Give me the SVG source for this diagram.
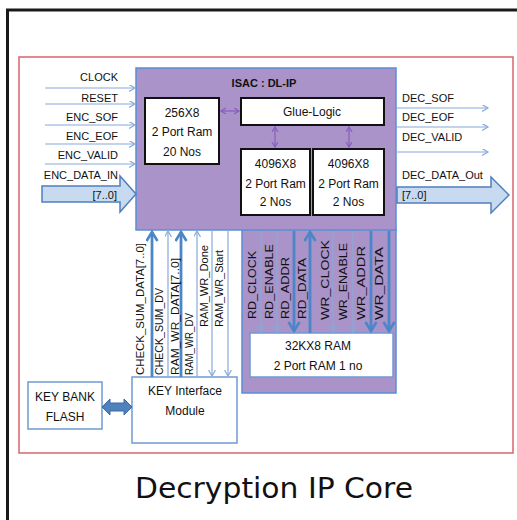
<svg xmlns="http://www.w3.org/2000/svg" width="517" height="520" viewBox="0 0 517 520">
<style>
text{font-family:"Liberation Sans",Arial,sans-serif;fill:#111}
.lbl{font-size:11px}
.box{font-size:12px;text-anchor:middle}
.rot{font-size:11.5px}
.thin{stroke:#85aadb;stroke-width:1.2;fill:none}
.thick{stroke:#4a86c8;stroke-width:2.8;fill:none}
.blk{fill:#fff;stroke:#111;stroke-width:2}
.bbox{fill:#fff;stroke:#6f9ad4;stroke-width:1.5}
.purp{stroke:#8a5cc0;stroke-width:1.2;fill:none}
</style>
<defs>
<marker id="ah" markerUnits="userSpaceOnUse" markerWidth="8" markerHeight="8" refX="6" refY="3.5" orient="auto"><path d="M0,0 L6,3.5 L0,7" fill="none" stroke="#85aadb" stroke-width="1.2"/></marker>
<marker id="ahT" markerUnits="userSpaceOnUse" markerWidth="14" markerHeight="14" refX="10" refY="6.5" orient="auto"><path d="M1,1 L10,6.5 L1,12" fill="none" stroke="#4a86c8" stroke-width="2.6"/></marker>
<marker id="ahP" markerUnits="userSpaceOnUse" markerWidth="8" markerHeight="8" refX="5" refY="3" orient="auto-start-reverse"><path d="M0,0 L5,3 L0,6" fill="none" stroke="#8a5cc0" stroke-width="1.2"/></marker>
</defs>
<rect width="517" height="520" fill="#fff"/>
<path d="M7.5,520 V10 H517" fill="none" stroke="#1a1a1a" stroke-width="3"/>
<rect x="19" y="57" width="494" height="396" fill="#fff" stroke="#d9646b" stroke-width="1.5"/>

<g id="isac">
<rect x="242" y="229" width="154" height="164" fill="#a993c8" stroke="#5b8ed6" stroke-width="1.5"/>
<rect x="136" y="68" width="260" height="162" fill="#a993c8" stroke="#5b8ed6" stroke-width="1.5"/>
<text x="264" y="87" font-size="11" font-weight="bold" text-anchor="middle">ISAC : DL-IP</text>
</g>
<g id="ram256">
<rect class="blk" x="145" y="98" width="74" height="66"/>
<text class="box" x="182" y="117">256X8</text>
<text class="box" x="182" y="136">2 Port Ram</text>
<text class="box" x="182" y="156">20 Nos</text>
</g>
<g id="glue">
<rect class="blk" x="241" y="98" width="143" height="27"/>
<text class="box" x="312" y="116">Glue-Logic</text>
</g>
<g id="ram4096a">
<rect class="blk" x="241" y="149" width="69" height="66"/>
<text class="box" x="275.5" y="168">4096X8</text>
<text class="box" x="275.5" y="188">2 Port Ram</text>
<text class="box" x="275.5" y="206">2 Nos</text>
</g>
<g id="ram4096b">
<rect class="blk" x="313" y="149" width="71" height="66"/>
<text class="box" x="348.5" y="168">4096X8</text>
<text class="box" x="348.5" y="188">2 Port Ram</text>
<text class="box" x="348.5" y="206">2 Nos</text>
</g>
<g id="ram32k">
<rect class="bbox" x="250" y="333" width="143" height="44"/>
<text class="box" x="318" y="350">32KX8  RAM</text>
<text class="box" x="318" y="370">2 Port RAM 1 no</text>
</g>
<g id="keyif">
<rect class="bbox" x="132" y="377" width="105" height="66"/>
<text class="box" x="185" y="395">KEY Interface</text>
<text class="box" x="185" y="415">Module</text>
</g>
<g id="keybank">
<rect class="bbox" x="28" y="382" width="74" height="47"/>
<text class="box" x="65" y="401" font-size="11">KEY BANK</text>
<text class="box" x="65" y="421" font-size="11">FLASH</text>
</g>

<g id="connectors">
<line class="purp" x1="221" y1="111" x2="239" y2="111" marker-start="url(#ahP)" marker-end="url(#ahP)"/>
<line class="purp" x1="275" y1="127" x2="275" y2="147" marker-start="url(#ahP)" marker-end="url(#ahP)"/>
<line class="purp" x1="349" y1="127" x2="349" y2="147" marker-start="url(#ahP)" marker-end="url(#ahP)"/>
<line class="thin" x1="45" y1="88" x2="135" y2="88" marker-end="url(#ah)"/>
<line class="thin" x1="45" y1="104" x2="135" y2="104" marker-end="url(#ah)"/>
<line class="thin" x1="45" y1="125" x2="135" y2="125" marker-end="url(#ah)"/>
<line class="thin" x1="45" y1="144" x2="135" y2="144" marker-end="url(#ah)"/>
<line class="thin" x1="45" y1="164" x2="135" y2="164" marker-end="url(#ah)"/>
<polygon points="42,186 120,186 120,176 136,194 120,212 120,202 42,202" fill="#c8daf0" stroke="#4f7fbf" stroke-width="1.5"/>
<line class="thin" x1="397" y1="108" x2="488" y2="108" marker-end="url(#ah)"/>
<line class="thin" x1="397" y1="127" x2="488" y2="127" marker-end="url(#ah)"/>
<line class="thin" x1="397" y1="152" x2="488" y2="152" marker-end="url(#ah)"/>
<polygon points="397,187 491,187 491,177 509,195 491,213 491,203 397,203" fill="#c8daf0" stroke="#4f7fbf" stroke-width="1.5"/>
<line class="thick" x1="152" y1="377" x2="152" y2="232" marker-end="url(#ahT)"/>
<line class="thin" x1="168" y1="377" x2="168" y2="231" marker-end="url(#ah)"/>
<line class="thick" x1="181" y1="377" x2="181" y2="232" marker-end="url(#ahT)"/>
<line class="thin" x1="197" y1="377" x2="197" y2="231" marker-end="url(#ah)"/>
<line class="thin" x1="212" y1="231" x2="212" y2="376" marker-end="url(#ah)"/>
<line class="thin" x1="228" y1="231" x2="228" y2="376" marker-end="url(#ah)"/>
<line class="thin" x1="261" y1="231" x2="261" y2="332" marker-end="url(#ah)"/>
<line class="thin" x1="277" y1="231" x2="277" y2="332" marker-end="url(#ah)"/>
<line class="thick" x1="294" y1="231" x2="294" y2="331" marker-end="url(#ahT)"/>
<line class="thick" x1="310" y1="333" x2="310" y2="232" marker-end="url(#ahT)"/>
<line class="thin" x1="333" y1="231" x2="333" y2="332" marker-end="url(#ah)"/>
<line class="thin" x1="353" y1="231" x2="353" y2="332" marker-end="url(#ah)"/>
<line class="thick" x1="371" y1="231" x2="371" y2="331" marker-end="url(#ahT)"/>
<line class="thick" x1="389" y1="231" x2="389" y2="331" marker-end="url(#ahT)"/>
<polygon points="102,407 110,399 110,403 124,403 124,399 132,407 124,415 124,411 110,411 110,415" fill="#4f81bd" stroke="#3a6aa5" stroke-width="1"/>
</g>

<g id="labels">
<text class="lbl" x="118" y="81" text-anchor="end">CLOCK</text>
<text class="lbl" x="118" y="102" text-anchor="end">RESET</text>
<text class="lbl" x="118" y="121" text-anchor="end">ENC_SOF</text>
<text class="lbl" x="118" y="140" text-anchor="end">ENC_EOF</text>
<text class="lbl" x="118" y="159" text-anchor="end">ENC_VALID</text>
<text class="lbl" x="118" y="179" text-anchor="end">ENC_DATA_IN</text>
<text class="lbl" x="117" y="199" text-anchor="end">[7..0]</text>
<text class="lbl" x="402" y="102">DEC_SOF</text>
<text class="lbl" x="402" y="121">DEC_EOF</text>
<text class="lbl" x="402" y="141">DEC_VALID</text>
<text class="lbl" x="402" y="179">DEC_DATA_Out</text>
<text class="lbl" x="402" y="199">[7..0]</text>
<g class="rot" style="font-size:11.5px">
<text transform="translate(144,375) rotate(-90)" textLength="132" lengthAdjust="spacingAndGlyphs">CHECK_SUM_DATA[7..0]</text>
<text transform="translate(163,375) rotate(-90)" textLength="87" lengthAdjust="spacingAndGlyphs">CHECK_SUM_DV</text>
<text transform="translate(179,375) rotate(-90)" textLength="117" lengthAdjust="spacingAndGlyphs">RAM_WR_DATA[7..0]</text>
<text transform="translate(193,375) rotate(-90)" textLength="62" lengthAdjust="spacingAndGlyphs">RAM_WR_DV</text>
<text transform="translate(208,327) rotate(-90)" textLength="82" lengthAdjust="spacingAndGlyphs">RAM_WR_Done</text>
<text transform="translate(223,327) rotate(-90)" textLength="77" lengthAdjust="spacingAndGlyphs">RAM_WR_Start</text>
<text transform="translate(256,319) rotate(-90)" textLength="68" lengthAdjust="spacingAndGlyphs">RD_CLOCK</text>
<text transform="translate(273,319) rotate(-90)" textLength="75" lengthAdjust="spacingAndGlyphs">RD_ENABLE</text>
<text transform="translate(289,319) rotate(-90)" textLength="62" lengthAdjust="spacingAndGlyphs">RD_ADDR</text>
<text transform="translate(306,319) rotate(-90)" textLength="61" lengthAdjust="spacingAndGlyphs">RD_DATA</text>
<text transform="translate(329,320) rotate(-90)" textLength="80" lengthAdjust="spacingAndGlyphs">WR_CLOCK</text>
<text transform="translate(347,320) rotate(-90)" textLength="77" lengthAdjust="spacingAndGlyphs">WR_ENABLE</text>
<text transform="translate(365,320) rotate(-90)" textLength="74" lengthAdjust="spacingAndGlyphs">WR_ADDR</text>
<text transform="translate(383,320) rotate(-90)" textLength="73" lengthAdjust="spacingAndGlyphs">WR_DATA</text>
</g>
</g>
<text x="274" y="498" font-size="28" text-anchor="middle" textLength="278" lengthAdjust="spacingAndGlyphs" style="font-family:'DejaVu Sans','Liberation Sans',sans-serif">Decryption IP Core</text>
</svg>
